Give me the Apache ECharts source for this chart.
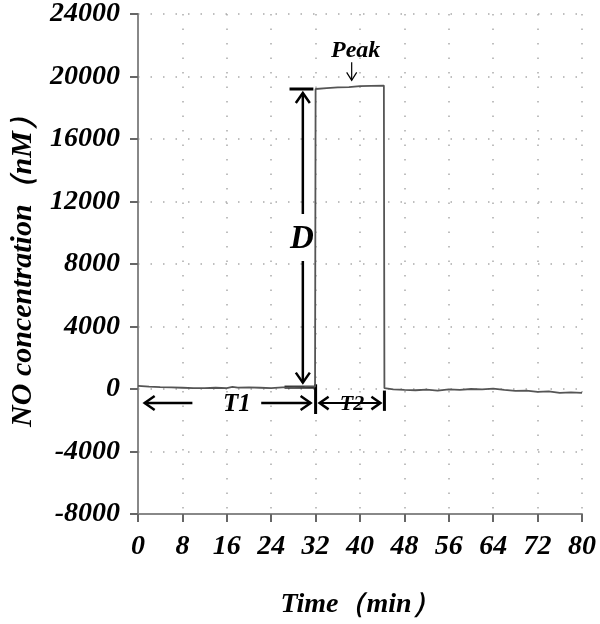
<!DOCTYPE html>
<html>
<head>
<meta charset="utf-8">
<script src="https://cdn.jsdelivr.net/npm/echarts@6/dist/echarts.min.js"></script>
<style>
  html, body { margin: 0; padding: 0; background: #fff; }
  #chart { width: 600px; height: 624px; }
</style>
</head>
<body>
<div id="chart"></div>
<script>
  // time (min) and NO concentration (nM)
  const timeMin = [0, 2, 4, 6, 8, 10, 12, 14, 16, 17, 18, 20, 22, 24, 26, 28, 30, 31.9,
    32, 34, 36, 38, 40, 42, 44.3,
    44.4, 46, 48, 50, 52, 54, 56, 58, 60, 62, 64, 66, 68, 70, 72, 74, 76, 78, 80]
  const noConc = [200, 150, 120, 100, 80, 60, 50, 80, 60, 130, 90, 100, 80, 60, 100, 120, 130, 150,
    19200, 19250, 19300, 19320, 19380, 19400, 19420,
    50, -20, -60, -80, -40, -100, -30, -50, 0, -30, 20, -60, -120, -100, -180, -150, -250, -220, -250]
  const xTicks = [0, 8, 16, 24, 32, 40, 48, 56, 64, 72, 80]
  const yTicks = [-8000, -4000, 0, 4000, 8000, 12000, 16000, 20000, 24000]

  const serif = '"Liberation Serif", "Times New Roman", serif'
  const chart = echarts.init(document.getElementById('chart'))

  const option = {
    animation: false,
    grid: { left: 136, right: 18, top: 14, bottom: 107 },
    xAxis: {
      type: 'value',
      min: xTicks[0],
      max: xTicks[xTicks.length - 1],
      interval: xTicks[1] - xTicks[0],
      name: 'Time（min）',
      nameLocation: 'middle',
      nameGap: 77,
      nameTextStyle: { fontFamily: serif, fontStyle: 'italic', fontWeight: 'bold', fontSize: 28, color: '#000' },
      axisLine: { onZero: false, lineStyle: { color: '#888', width: 2 } },
      axisTick: { length: 8, lineStyle: { color: '#666', width: 2 } },
      axisLabel: { margin: 19, fontFamily: serif, fontStyle: 'italic', fontWeight: 'bold', fontSize: 28, color: '#000' },
      splitLine: { show: true, lineStyle: { color: '#aaa', type: [1.5, 13], width: 1.5 } }
    },
    yAxis: {
      type: 'value',
      min: yTicks[0],
      max: yTicks[yTicks.length - 1],
      interval: yTicks[1] - yTicks[0],
      name: 'NO concentration（nM）',
      nameLocation: 'middle',
      nameRotate: 90,
      nameGap: 100,
      nameTextStyle: { fontFamily: serif, fontStyle: 'italic', fontWeight: 'bold', fontSize: 30, color: '#000' },
      axisLine: { show: true, lineStyle: { color: '#888', width: 2 } },
      axisTick: { show: true, length: 8, lineStyle: { color: '#666', width: 2 } },
      axisLabel: { margin: 18, formatter: v => String(v), fontFamily: serif, fontStyle: 'italic', fontWeight: 'bold', fontSize: 28, color: '#000' },
      splitLine: { show: true, lineStyle: { color: '#aaa', type: [1.5, 11], width: 1.5 } }
    },
    series: [{
      type: 'line',
      data: timeMin.map((t, i) => [t, noConc[i]]),
      symbol: 'none',
      lineStyle: { color: '#555', width: 1.8 }
    }]
  }
  chart.setOption(option)

  // annotations placed in data coordinates
  const px = (t, v) => chart.convertToPixel({ gridIndex: 0 }, [t, v])
  const black = { stroke: '#000', lineWidth: 2.5, fill: null }
  const els = []
  const line = (a, b, w) => els.push({ type: 'line', shape: { x1: a[0], y1: a[1], x2: b[0], y2: b[1] }, style: { stroke: '#000', lineWidth: w || 2.5 } })
  const head = (tip, dx, dy, s) => els.push({
    type: 'polyline',
    shape: { points: [[tip[0] + dx * s - dy * s * 0.7, tip[1] + dy * s - dx * s * 0.7], tip, [tip[0] + dx * s + dy * s * 0.7, tip[1] + dy * s + dx * s * 0.7]] },
    style: black
  })
  const txt = (p, s, size) => els.push({
    type: 'text', x: p[0], y: p[1],
    style: { text: s, fontFamily: serif, fontStyle: 'italic', fontWeight: 'bold', fontSize: size, fill: '#000', align: 'center', verticalAlign: 'middle' }
  })

  // D : vertical double arrow, broken around the letter
  const dTop = px(29.7, 19200), dBot = px(29.7, 150)
  const dMid = px(29.7, 9600)
  line(px(27.3, 19200), px(31.6, 19200), 3)
  line(px(26.4, 120), px(31.7, 120), 3)
  line([dTop[0], dTop[1] + 4], [dTop[0], dMid[1] - 25], 2.5)
  line([dBot[0], dMid[1] + 22], [dBot[0], dBot[1] - 4], 2.5)
  head([dTop[0], dTop[1] + 4], 0, 1, 10)
  head([dBot[0], dBot[1] - 4], 0, -1, 10)
  txt([dMid[0] - 1, dMid[1]], 'D', 33)

  // Peak arrow
  const pk = px(38.5, 19500)
  txt([pk[0] + 4, pk[1] - 34], 'Peak', 24)
  line([pk[0], pk[1] - 22], [pk[0], pk[1] - 4], 1.2)
  els.push({ type: 'polyline', shape: { points: [[pk[0] - 5, pk[1] - 12], [pk[0], pk[1] - 4], [pk[0] + 5, pk[1] - 12]] }, style: { stroke: '#000', lineWidth: 1.2, fill: null } })

  // T1 / T2
  const yT = px(0, -900)[1]
  const x0 = px(1.2, 0)[0], x32 = px(32, 0)[0], x44 = px(44.4, 0)[0]
  line([x0, yT], [px(9.8, 0)[0], yT])
  head([x0, yT], 1, 0, 10)
  txt([px(17.8, 0)[0], yT + 1], 'T1', 25)
  line([px(22.2, 0)[0], yT], [x32 - 5, yT])
  head([x32 - 5, yT], -1, 0, 10)
  line([x32, px(0, 300)[1]], [x32, px(0, -1600)[1]], 3)
  line([x44, px(0, -100)[1]], [x44, px(0, -1400)[1]], 3)
  line([x32 + 4, yT], [x44 - 4, yT], 2)
  head([x32 + 4, yT], 1, 0, 9)
  head([x44 - 4, yT], -1, 0, 9)
  txt([(x32 + x44) / 2 + 2, yT + 1], 'T2', 22)

  chart.setOption({ graphic: { elements: els } })
</script>
</body>
</html>
